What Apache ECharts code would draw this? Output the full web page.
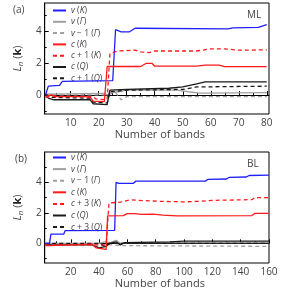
<!DOCTYPE html>
<html><head><meta charset="utf-8">
<script src="https://cdn.jsdelivr.net/npm/echarts@6/dist/echarts.min.js"></script>
<style>html,body{margin:0;padding:0;background:#fff}#c{width:301px;height:293px}</style>
</head><body><div id="c"></div>
<script>
// ---- Panel (a): ML, number of bands 1..80 ----
const xTicksA = [10,20,30,40,50,60,70,80];
const xMinorA = [5,15,25,35,45,55,65,75];
const yTicks = [0,2,4];
const yMinor = [-1,1,3,5];
const namesA = ['v (K)','v (Γ)','v − 1 (Γ)','c (K)','c + 1 (K)','c (Q)','c + 1 (Q)'];
const vK_a = [[1,0.0],[2,0.55],[6,0.6],[7,0.85],[25,0.9],[26,4.08],[28,3.95],[31,3.95],[33,4.17],[66,4.13],[68,4.2],[77,4.23],[80,4.4]];
const vG_a = [[1,0.05],[22,0.1],[23,0.0],[24,0.15],[27,0.2],[30,0.3],[48,0.3],[52,0.2],[56,0.12],[80,0.15]];
const vm1G_a = [[1,0.0],[22,0.0],[24,0.05],[26,0.15],[28,-0.3],[30,-0.1],[80,-0.1]];
const cK_a = [[1,-0.1],[3,0.0],[5,-0.1],[15,-0.1],[17,-0.15],[18,-0.38],[22,-0.42],[23,1.78],[35,1.78],[37,1.98],[39,1.98],[40,1.8],[55,1.8],[58,1.86],[63,1.86],[65,1.77],[80,1.77]];
const cp1K_a = [[1,-0.15],[3,-0.08],[18,-0.1],[19,-0.25],[23,-0.3],[24,2.6],[27,2.75],[33,2.8],[35,2.7],[38,2.65],[40,2.75],[55,2.75],[60,2.88],[65,2.88],[70,2.8],[80,2.82]];
const cQ_a = [[1,0.0],[2,-0.2],[4,-0.3],[17,-0.3],[18,-0.55],[23,-0.6],[24,0.3],[30,0.35],[45,0.42],[50,0.5],[55,0.7],[58,0.82],[80,0.82]];
const cp1Q_a = [[1,0.05],[3,-0.15],[17,-0.2],[18,-0.45],[23,-0.5],[24,0.2],[30,0.3],[50,0.35],[55,0.5],[80,0.55]];

// ---- Panel (b): BL, number of bands 2..160 ----
const xTicksB = [20,40,60,80,100,120,140,160];
const xMinorB = [10,30,50,70,90,110,130,150];
const namesB = ['v (K)','v (Γ)','v − 1 (Γ)','c (K)','c + 3 (K)','c (Q)','c + 3 (Q)'];
const vK_b = [[2,0.0],[5,0.0],[6,0.6],[15,0.6],[16,0.83],[51,0.85],[52,4.0],[54,3.93],[64,3.93],[66,4.08],[115,4.08],[117,4.2],[130,4.22],[132,4.33],[144,4.35],[146,4.45],[160,4.47]];
const vG_b = [[2,0.0],[40,0.0],[44,0.1],[48,0.05],[52,0.2],[55,0.0],[60,0.05],[160,0.05]];
const vm1G_b = [[2,-0.1],[40,-0.1],[50,-0.1],[55,-0.15],[160,-0.2]];
const cK_b = [[2,-0.15],[5,-0.15],[6,-0.05],[35,-0.05],[38,-0.3],[45,-0.4],[46,1.8],[57,1.82],[60,1.95],[65,1.95],[70,1.9],[78,1.92],[85,1.85],[95,1.8],[148,1.82],[150,1.97],[160,1.97]];
const cp3K_b = [[2,-0.1],[45,-0.1],[47,2.65],[55,2.7],[62,2.85],[72,2.8],[85,2.75],[100,2.72],[110,2.75],[120,2.82],[140,2.85],[148,2.87],[150,3.0],[160,3.0]];
const cQ_b = [[2,-0.05],[6,-0.1],[35,-0.1],[40,-0.3],[45,-0.2],[47,0.0],[52,0.1],[55,-0.1],[58,0.05],[90,0.1],[100,0.15],[160,0.15]];
const cp3Q_b = [[2,0.0],[40,0.0],[44,-0.2],[48,0.0],[160,0.0]];

const FONT = 'Open Sans';
const TXT = '#444';
const BLUE = '#1f1fff', RED = '#ff1a1a', GRAY = '#a0a0a0', BLACK = '#1a1a1a';
const styles = [
  [BLUE,'solid'],[GRAY,'solid'],[GRAY,'dashed'],[RED,'solid'],[RED,'dashed'],[BLACK,'solid'],[BLACK,'dashed']
];
const dataA = [vK_a,vG_a,vm1G_a,cK_a,cp1K_a,cQ_a,cp1Q_a];
const dataB = [vK_b,vG_b,vm1G_b,cK_b,cp3K_b,cQ_b,cp3Q_b];

function mkSeries(prefix, names, data, xi, yi){
  return names.map((nm,i)=>({
    name: prefix+nm, type:'line', xAxisIndex:xi, yAxisIndex:yi, data:data[i],
    symbol:'none', animation:false, z: (i===0||i===3||i===4)?5:3,
    lineStyle:{color:styles[i][0], width:1.3, type: styles[i][1]==='dashed'?[4,3]:'solid'},
    itemStyle:{color:styles[i][0]}
  }));
}
function legendFmt(name){
  const s = name.slice(2);
  const m = s.match(/^([vc])(.*)\((.)\)$/);
  return '{i|'+m[1]+'}{t|'+m[2]+'(}{i|'+m[3]+'}{t|)}';
}
const legendRich = {
  i:{fontStyle:'italic', fontSize:8.5, fontFamily:FONT, color:TXT},
  t:{fontSize:8.5, fontFamily:FONT, color:TXT}
};
function xAxes(grid, min, max, ticks, minor){
  return [
    {type:'value', gridIndex:grid, min:min, max:max, position:'bottom',
     axisLine:{show:true, lineStyle:{color:'#000', width:1}},
     axisTick:{show:true, inside:true, length:4, customValues:ticks, lineStyle:{color:'#000'}},
     axisLabel:{customValues:ticks, fontSize:10, fontFamily:FONT, color:TXT, margin:4},
     splitLine:{show:false},
     name:'Number of bands', nameLocation:'middle', nameGap:15,
     nameTextStyle:{fontSize:11, fontFamily:FONT, color:TXT, padding:[0,0,0,6]}},
    {type:'value', gridIndex:grid, min:min, max:max, position:'bottom',
     axisLine:{show:false},
     axisTick:{show:true, inside:true, length:2, customValues:minor, lineStyle:{color:'#000'}},
     axisLabel:{show:false}, splitLine:{show:false}}
  ];
}
function yAxes(grid, min, max){
  return [
    {type:'value', gridIndex:grid, min:min, max:max, position:'left',
     axisLine:{show:true, lineStyle:{color:'#000', width:1}},
     axisTick:{show:true, inside:true, length:4, customValues:yTicks, lineStyle:{color:'#000'}},
     axisLabel:{customValues:yTicks, fontSize:10, fontFamily:FONT, color:TXT, margin:3},
     splitLine:{show:false},
     name:'{i|L}{s|n}{t| (}{b|k}{t|)}', nameLocation:'middle', nameGap:18, nameRotate:90,
     nameTextStyle:{rich:{
       i:{fontStyle:'italic', fontSize:11, fontFamily:FONT, color:TXT},
       s:{fontStyle:'italic', fontSize:8, fontFamily:FONT, color:TXT, verticalAlign:'bottom', padding:[6,0,0,0]},
       t:{fontSize:11, fontFamily:FONT, color:TXT},
       b:{fontSize:11, fontWeight:'bold', fontFamily:FONT, color:'#222'}
     }}},
    {type:'value', gridIndex:grid, min:min, max:max, position:'left',
     axisLine:{show:false},
     axisTick:{show:true, inside:true, length:2, customValues:yMinor, lineStyle:{color:'#000'}},
     axisLabel:{show:false}, splitLine:{show:false}}
  ];
}

const chart = echarts.init(document.getElementById('c'), null, {renderer:'canvas'});
const legendCommon = {orient:'vertical', left:52, padding:0, itemWidth:13, itemHeight:8,
  formatter:legendFmt, itemStyle:{opacity:0}, selectedMode:false,
  textStyle:{rich:legendRich, fontSize:8.5, lineHeight:8, color:TXT}};
const option = {
  animation:false,
  grid:[
    {left:44.7, top:3, width:224.3, height:111, show:true, borderColor:'#000', borderWidth:1, backgroundColor:'transparent'},
    {left:44.7, top:152, width:224.3, height:111, show:true, borderColor:'#000', borderWidth:1, backgroundColor:'transparent'}
  ],
  xAxis:[...xAxes(0, 0.7, 80.8, xTicksA, xMinorA), ...xAxes(1, 1.6, 160, xTicksB, xMinorB)],
  yAxis:[...yAxes(0, -1.19, 5.75), ...yAxes(1, -1.29, 5.99)],
  legend:[
    Object.assign({}, legendCommon, {data:namesA.map(n=>'a:'+n), top:6, itemGap:2.3}),
    Object.assign({}, legendCommon, {data:namesB.map(n=>'b:'+n), top:153, itemGap:2.6})
  ],
  graphic:[
    {type:'text', left:13, top:5, style:{text:'(a)', fontSize:10, fontFamily:FONT, fill:TXT}},
    {type:'text', left:15, top:154, style:{text:'(b)', fontSize:10, fontFamily:FONT, fill:TXT}},
    {type:'text', left:247, top:10, style:{text:'ML', fontSize:10, fontFamily:FONT, fill:TXT}},
    {type:'text', left:247, top:159, style:{text:'BL', fontSize:10, fontFamily:FONT, fill:TXT}}
  ],
  series:[...mkSeries('a:', namesA, dataA, 0, 0), ...mkSeries('b:', namesB, dataB, 2, 2)]
};
chart.setOption(option);
</script></body></html>
